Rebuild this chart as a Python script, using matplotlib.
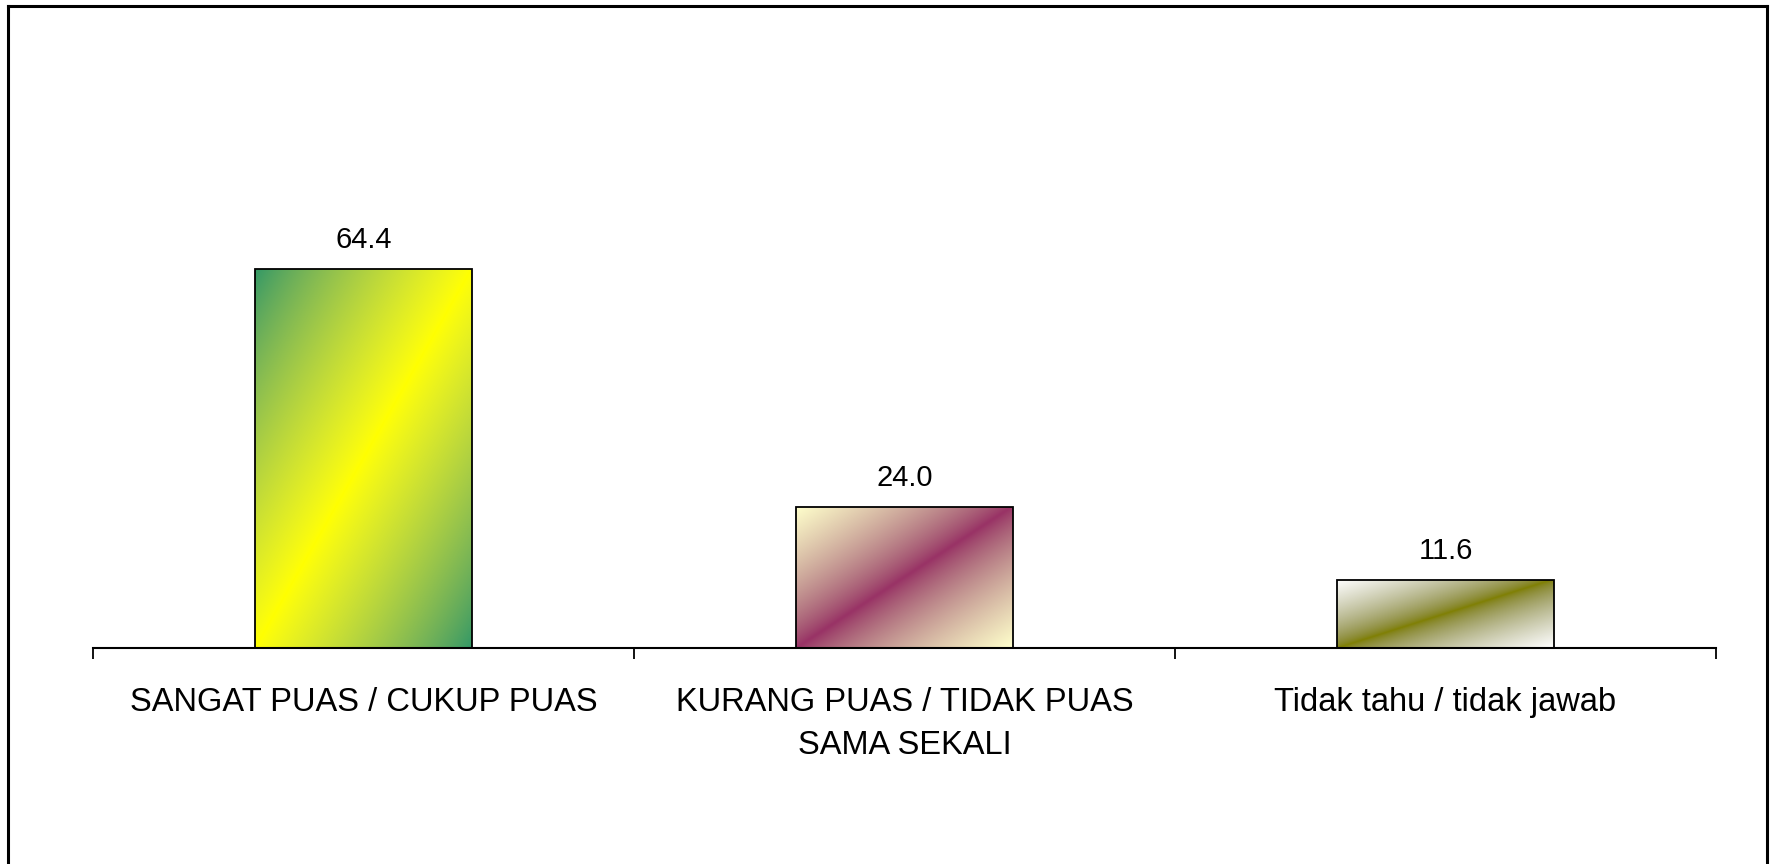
import numpy as np
import matplotlib
matplotlib.use("Agg")
import matplotlib.pyplot as plt
from matplotlib.colors import ListedColormap, to_rgb
from matplotlib.lines import Line2D

plt.rcParams['font.family'] = ['Liberation Sans', 'DejaVu Sans']

categories = ["SANGAT PUAS / CUKUP PUAS",
              "KURANG PUAS / TIDAK PUAS\nSAMA SEKALI",
              "Tidak tahu / tidak jawab"]
values = [64.4, 24.0, 11.6]
# (diagonal colour, corner colour) of each bar's gradient
gradients = [("#FFFF00", "#339966"),
             ("#993366", "#FFFFCC"),
             ("#808000", "#FFFFFF")]

GAMMA = 1.6


def blend_cmap(c1, c2, n=256):
    # blend in a gamma-lifted space, which keeps the mid tones bright
    a = np.asarray(to_rgb(c1)) ** GAMMA
    b = np.asarray(to_rgb(c2)) ** GAMMA
    s = np.linspace(0, 1, n)[:, None]
    return ListedColormap(np.clip((a * (1 - s) + b * s) ** (1 / GAMMA), 0, 1))


W, H, DPI = 1771, 864, 100
fig = plt.figure(figsize=(W / DPI, H / DPI), dpi=DPI)
ax = fig.add_axes([93 / W, 1 - 648 / H, (1716 - 93) / W, (648 - 59) / H])

x = np.arange(len(categories))
bar_width = 0.4
bars = ax.bar(x, values, width=bar_width, color="none", edgecolor="black",
              linewidth=1.3, zorder=3)

# diagonal gradient fill: centre band from bottom-left to top-right corner
n = 200
u, v = np.meshgrid(np.linspace(0, 1, n), np.linspace(0, 1, n))
t = np.abs(u - v)
for bar, (c_mid, c_corner) in zip(bars, gradients):
    x0, y0 = bar.get_x(), bar.get_y()
    im = ax.imshow(t, cmap=blend_cmap(c_mid, c_corner), vmin=0, vmax=1, origin="lower",
                   extent=[x0, x0 + bar.get_width(), y0, y0 + bar.get_height()],
                   aspect="auto", interpolation="bilinear", zorder=2)
    im.set_clip_path(bar)

for xi, val in zip(x, values):
    ax.annotate(f"{val:.1f}", (xi, val), xytext=(0, 15), textcoords="offset points",
                ha="center", va="baseline", fontsize=21)

ax.set_xlim(-0.5, len(categories) - 0.5)
ax.set_ylim(0, 100)

ax.set_xticks(np.arange(len(categories) + 1) - 0.5, minor=False)
ax.set_xticklabels([])
ax.set_xticks(x, minor=True)
ax.set_xticklabels(categories, minor=True, fontsize=23.5, linespacing=1.5)
ax.tick_params(axis="x", which="major", direction="out", length=8, width=1.3)
ax.tick_params(axis="x", which="minor", length=0, pad=28)
ax.set_yticks([])

for side in ["left", "right", "top"]:
    ax.spines[side].set_visible(False)
ax.spines["bottom"].set_linewidth(1.5)
ax.spines["bottom"].set_zorder(4)

# outer chart border (bottom edge is cut off)
bx0, bx1, by0 = 8 / W, 1767 / W, 1 - 6 / H
for xs, ys in [([bx0, bx0], [0, by0]), ([bx0, bx1], [by0, by0]), ([bx1, bx1], [by0, 0])]:
    fig.add_artist(Line2D(xs, ys, color="black", linewidth=2.2))

fig.savefig("out.png", dpi=DPI)
